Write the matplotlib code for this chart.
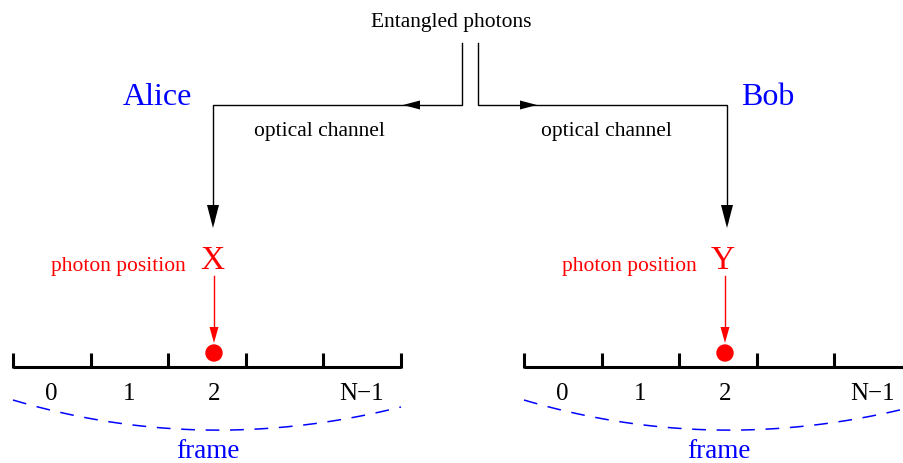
import numpy as np
import matplotlib.pyplot as plt

# diagram content
source_label = 'Entangled photons'
channel_label = 'optical channel'
parties = ['Alice', 'Bob']
symbols = ['X', 'Y']
slot_labels = ['0', '1', '2', '', 'N\u22121']
photon_slot = 2
photon_frac = 0.59          # where inside the slot the photon sits
frame_label = 'frame'

# layout (pixel coords, y down)
W, H = 904, 463
frame_x0 = [13, 524]
slot_w = 77.6
base_y = 367
tick_h = 14
drop_x = [213, 727]
feed_x = [462, 478]
bend_y = 105

BLUE = '#0000ff'
RED = '#ff0000'
plt.rcParams['font.family'] = ['Liberation Serif', 'DejaVu Serif']

fig = plt.figure(figsize=(W / 100, H / 100), dpi=100)
ax = fig.add_axes([0, 0, 1, 1])
ax.set_xlim(0, W)
ax.set_ylim(H, 0)
ax.axis('off')


def head(x, y, dx, dy, length, width, color):
    # triangle with its tip at (x, y) pointing along (dx, dy)
    px, py = -dy, dx
    bx, by = x - dx * length, y - dy * length
    ax.fill([x, bx + px * width / 2, bx - px * width / 2],
            [y, by + py * width / 2, by - py * width / 2],
            color=color, lw=0, zorder=3)


ax.text(451, 27, source_label, fontsize=15.5, ha='center', va='baseline')

for i in range(2):
    side = -1 if i == 0 else 1
    fx = feed_x[i]
    dx = drop_x[i]
    # optical channel: down from source, across, down to the detector
    ax.plot([fx, fx, dx, dx], [43, bend_y, bend_y, 222], color='black', lw=1.0,
            solid_joinstyle='miter')
    head(fx + side * 59, bend_y, side, 0, 17, 9, 'black')
    head(dx, 228, 0, 1, 23, 12, 'black')
    ax.text([319, 606][i], 136, channel_label, fontsize=15.5, ha='center', va='baseline')
    ax.text([157, 768][i], 105, parties[i], fontsize=23, color=BLUE,
            ha='center', va='baseline')

    # frame of slots
    x0 = frame_x0[i]
    n = len(slot_labels)
    ticks = x0 + slot_w * np.arange(n + 1)
    ax.plot([ticks[0], ticks[-1]], [base_y, base_y], color='black', lw=2.2,
            solid_capstyle='butt')
    for t in ticks:
        ax.plot([t, t], [base_y + 1, base_y - tick_h], color='black', lw=2.2,
                solid_capstyle='butt')
    for k, lab in enumerate(slot_labels):
        cx = x0 + slot_w * (k + (photon_frac if k == photon_slot else 0.49))
        ax.text(cx, 400, lab, fontsize=18, ha='center', va='baseline')

    # photon
    px = x0 + slot_w * (photon_slot + photon_frac)
    ax.text(px - 2, 269, symbols[i], fontsize=24, color=RED, ha='center', va='baseline')
    ax.text(px - 96, 271, 'photon position', fontsize=15.5, color=RED,
            ha='center', va='baseline')
    ax.plot([px, px], [276, 333], color=RED, lw=1.0)
    head(px, 343, 0, 1, 16, 9, RED)
    ax.add_patch(plt.Circle((px, 353), 8, color=RED, zorder=4))

    # dashed frame brace
    p0 = np.array([x0, 400.0])
    p2 = np.array([x0 + slot_w * n, 407.0])
    mid = np.array([x0 + 192, 430.0])
    ctrl = 2 * mid - 0.5 * (p0 + p2)
    t = np.linspace(0, 1, 80)[:, None]
    curve = (1 - t) ** 2 * p0 + 2 * t * (1 - t) * ctrl + t ** 2 * p2
    ax.plot(curve[:, 0], curve[:, 1], color=BLUE, lw=1.1, dashes=(9, 7))
    ax.text(x0 + 195, 458, frame_label, fontsize=19.5, color=BLUE,
            ha='center', va='baseline')

fig.savefig('out.png', dpi=100)
